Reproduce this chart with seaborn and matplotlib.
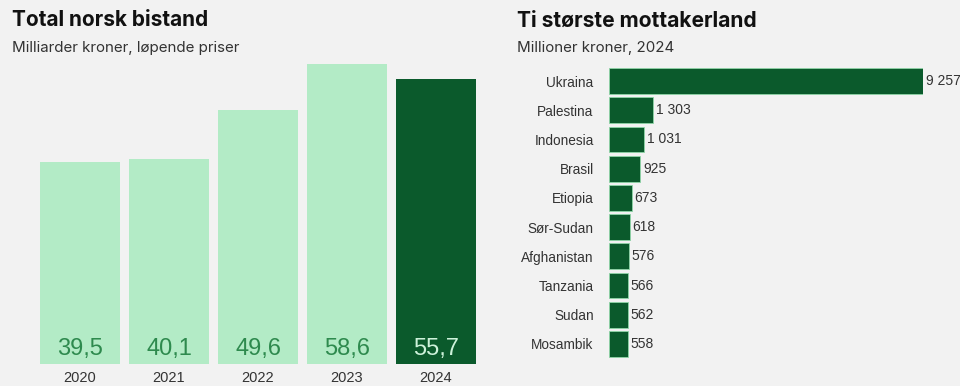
import matplotlib
matplotlib.use("Agg")
import matplotlib.pyplot as plt
import seaborn as sns
import pandas as pd

years = ["2020", "2021", "2022", "2023", "2024"]
total_aid = [39.5, 40.1, 49.6, 58.6, 55.7]

countries = ["Ukraina", "Palestina", "Indonesia", "Brasil", "Etiopia",
             "Sør-Sudan", "Afghanistan", "Tanzania", "Sudan", "Mosambik"]
country_values = [9257, 1303, 1031, 925, 673, 618, 576, 566, 562, 558]

BG = "#f2f2f2"
LIGHT = "#b3ebc6"
DARK = "#0b5a2c"

sns.set_theme(style="white")
plt.rcParams["font.family"] = ["Liberation Sans", "DejaVu Sans"]

fig = plt.figure(figsize=(9.6, 3.86), dpi=100)
fig.patch.set_facecolor(BG)

# Left chart
axL = fig.add_axes([40 / 960, 22 / 386, 436 / 960, 300 / 386])
axL.set_facecolor(BG)
dfL = pd.DataFrame({"year": years, "value": total_aid})
palette = {y: (DARK if y == years[-1] else LIGHT) for y in years}
sns.barplot(data=dfL, x="year", y="value", hue="year", palette=palette,
            legend=False, width=0.9, ax=axL, saturation=1, linewidth=0)
axL.set_xlim(-0.45, 4.45)
axL.set_ylim(0, 58.6)
for i, (y, v) in enumerate(zip(years, total_aid)):
    col = "#cdf2da" if y == years[-1] else "#2e8a4e"
    axL.text(i, 2.9, f"{v:.1f}".replace(".", ","), ha="center", va="center",
             fontsize=17, color=col)
axL.set_xlabel("")
axL.set_ylabel("")
axL.set_yticks([])
axL.tick_params(axis="x", length=0, pad=5, labelsize=10.5, labelcolor="#333333")
for s in axL.spines.values():
    s.set_visible(False)

# Right chart
axR = fig.add_axes([609 / 960, 27.4 / 386, 314 / 960, 292.2 / 386])
axR.set_facecolor(BG)
dfR = pd.DataFrame({"country": countries, "value": country_values})
sns.barplot(data=dfR, y="country", x="value", orient="h", color=DARK,
            width=0.88, ax=axR, saturation=1, edgecolor="#8fd6a8", linewidth=0.6)
axR.set_xlim(0, 9257)
axR.set_ylim(9.5, -0.5)
for i, v in enumerate(country_values):
    lbl = f"{v:,}".replace(",", " ")
    axR.text(v + 80, i, lbl, ha="left", va="center", fontsize=10,
             color="#333333", clip_on=False)
axR.set_xlabel("")
axR.set_ylabel("")
axR.set_xticks([])
axR.tick_params(axis="y", length=0, pad=11, labelsize=9.8, labelcolor="#333333")
for s in axR.spines.values():
    s.set_visible(False)

# Titles
tfam = ["Inter", "DejaVu Sans"]
fig.text(12 / 960, 1 - 20.5 / 386, "Total norsk bistand", fontsize=15,
         fontweight="bold", va="center", ha="left", color="#111111", family=tfam)
fig.text(12 / 960, 1 - 48 / 386, "Milliarder kroner, løpende priser",
         fontsize=10.9, va="center", ha="left", color="#333333", family=tfam)
fig.text(517 / 960, 1 - 20.5 / 386, "Ti største mottakerland", fontsize=15.1,
         fontweight="bold", va="center", ha="left", color="#111111", family=tfam)
fig.text(517 / 960, 1 - 48 / 386, "Millioner kroner, 2024",
         fontsize=10.9, va="center", ha="left", color="#333333", family=tfam)

fig.savefig("out.png", dpi=100, facecolor=BG)
